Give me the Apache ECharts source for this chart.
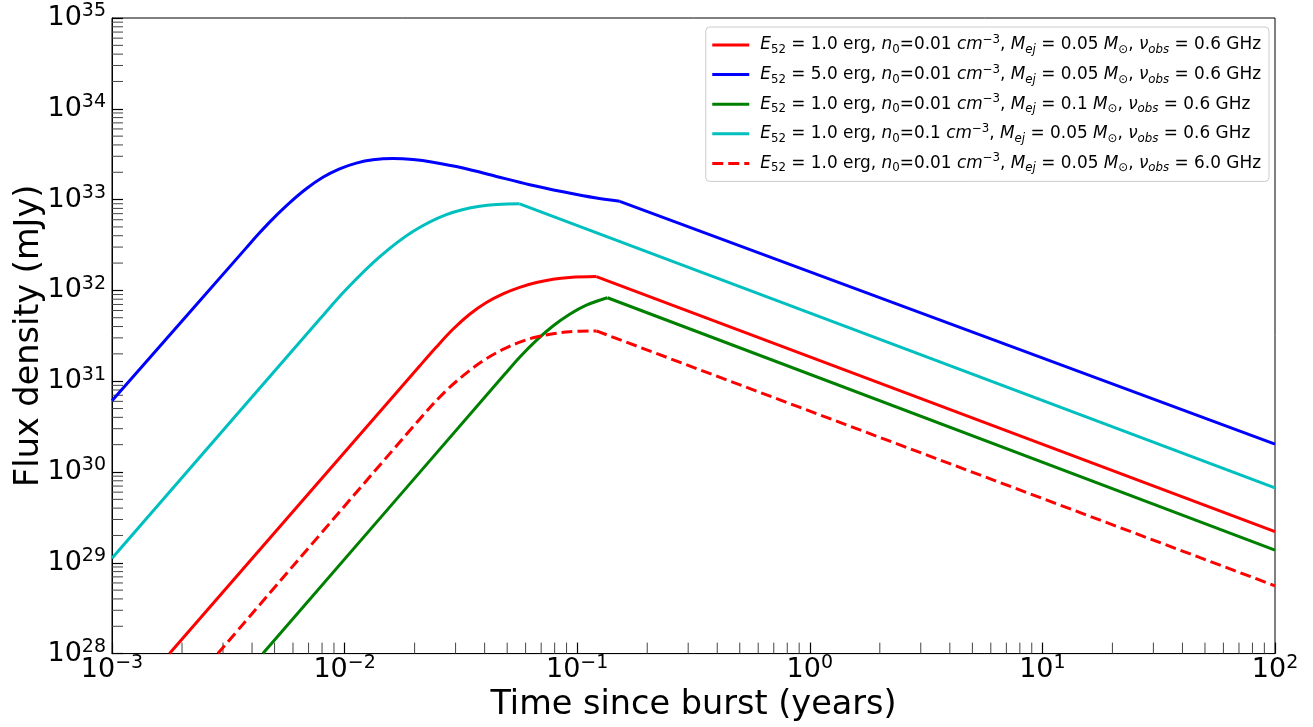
<!DOCTYPE html>
<html>
<head>
<meta charset="utf-8">
<script src="https://cdn.jsdelivr.net/npm/echarts@6/dist/echarts.min.js"></script>
<style>
html,body{margin:0;padding:0;background:#fff;}
#chart{width:1313px;height:727px;}
</style>
</head>
<body>
<div id="chart"></div>
<script>
// ---- data (time in years, flux density in mJy) ----
const seriesNames = [
  'E52 = 1.0 erg, n0=0.01 cm-3, Mej = 0.05 Msun, nu_obs = 0.6 GHz',
  'E52 = 5.0 erg, n0=0.01 cm-3, Mej = 0.05 Msun, nu_obs = 0.6 GHz',
  'E52 = 1.0 erg, n0=0.01 cm-3, Mej = 0.1 Msun, nu_obs = 0.6 GHz',
  'E52 = 1.0 erg, n0=0.1 cm-3, Mej = 0.05 Msun, nu_obs = 0.6 GHz',
  'E52 = 1.0 erg, n0=0.01 cm-3, Mej = 0.05 Msun, nu_obs = 6.0 GHz'
];
const E52 = ['1.0', '5.0', '1.0', '1.0', '1.0'];
const n0 = ['0.01', '0.01', '0.01', '0.1', '0.01'];
const Mej = ['0.05', '0.05', '0.1', '0.05', '0.05'];
const nuObs = ['0.6', '0.6', '0.6', '0.6', '6.0'];

// curved part up to the break (last entry = break), then straight power-law tail to t = 100 yr
const tRed = [0.001767, 0.02102, 0.02480, 0.02922, 0.03448, 0.04070, 0.04797, 0.05657, 0.06675, 0.07867, 0.09284, 0.1209];
const fRed = [1e28, 1.47e31, 2.38e31, 3.73e31, 5.46e31, 7.35e31, 9.16e31, 1.08e32, 1.22e32, 1.33e32, 1.39e32, 1.42e32];
const tailRed = [[0.1209, 100], [1.42e32, 2.21e29]];

const tBlue = [0.001, 0.003777, 0.004310, 0.004915, 0.005799, 0.006843, 0.008066, 0.009517, 0.01123, 0.01323, 0.01613, 0.01967, 0.02398, 0.03227, 0.04493, 0.06247, 0.08687, 0.1209, 0.1524];
const fBlue = [6.08e30, 2.94e32, 4.31e32, 6.14e32, 9.20e32, 1.315e33, 1.76e33, 2.18e33, 2.52e33, 2.74e33, 2.83e33, 2.76e33, 2.58e33, 2.23e33, 1.80e33, 1.46e33, 1.22e33, 1.04e33, 9.58e32];
const tailBlue = [[0.1524, 100], [9.58e32, 2.03e30]];

const tGreen = [0.004452, 0.04876, 0.05657, 0.06675, 0.07867, 0.09284, 0.1095, 0.1349];
const fGreen = [1e28, 1.19e31, 1.84e31, 2.82e31, 4.06e31, 5.46e31, 6.89e31, 8.30e31];
const tailGreen = [[0.1349, 100], [8.30e31, 1.38e29]];

const tCyan = [0.001, 0.00781, 0.01017, 0.01414, 0.01966, 0.02738, 0.03807, 0.05657];
const fCyan = [1.12e29, 4.80e31, 1.03e32, 2.34e32, 4.45e32, 6.84e32, 8.47e32, 8.99e32];
const tailCyan = [[0.05657, 100], [8.99e32, 6.67e29]];

const tDash = [0.002851, 0.02102, 0.02738, 0.03448, 0.04070, 0.04797, 0.05657, 0.06675, 0.07867, 0.09284, 0.1209];
const fDash = [1e28, 3.82e30, 7.91e30, 1.31e31, 1.77e31, 2.24e31, 2.69e31, 3.07e31, 3.33e31, 3.51e31, 3.58e31];
const tailDash = [[0.1209, 100], [3.58e31, 5.58e28]];

const xDecades = [-3, -2, -1, 0, 1];
const yDecades = [28, 29, 30, 31, 32, 33, 34];
const minorMultipliers = [2, 3, 4, 5, 6, 7, 8, 9];

// ---- helpers ----
function zip(t, f) { return t.map((v, i) => [v, f[i]]); }
const xMinor = [];
xDecades.forEach(d => minorMultipliers.forEach(k => xMinor.push([k * Math.pow(10, d), 1e28])));
const yMinor = [];
yDecades.forEach(d => minorMultipliers.forEach(k => yMinor.push([0.001, k * Math.pow(10, d)])));

const FONT = 'DejaVu Sans';
function powLabel(v) {
  const e = Math.round(Math.log10(v));
  const s = e < 0 ? '\u2212' + (-e) : String(e);
  return '{b|10}{s|' + s + '}';
}
function legendRich(i) {
  return '{gap|}{i|E}{sb|52}{n| = ' + E52[i] + ' erg, }{i|n}{sb|0}{n|=' + n0[i] + ' }{i|cm}{sp|\u22123}{n|, }' +
    '{i|M}{sbi|ej}{n| = ' + Mej[i] + ' }{i|M}{sb|\u2299}{n|, }{i|\u03bd}{sbi|obs}{n| = ' + nuObs[i] + ' GHz}';
}
const legendMap = {};
seriesNames.forEach((n, i) => legendMap[n] = legendRich(i));

const tickLabelRich = {
  b: { fontFamily: FONT, fontSize: 27, lineHeight: 32, color: '#000' },
  s: { fontFamily: FONT, fontSize: 19, lineHeight: 19, verticalAlign: 'top', color: '#000' }
};
const LFS = 16.9, LSS = 11.8;
const legendRichStyles = {
  gap: { width: 6 },
  n: { fontFamily: FONT, fontSize: LFS, lineHeight: 22, color: '#000' },
  i: { fontFamily: FONT, fontSize: LFS, fontStyle: 'italic', lineHeight: 22, color: '#000' },
  sb: { fontFamily: FONT, fontSize: LSS, lineHeight: 11, verticalAlign: 'bottom', color: '#000' },
  sbi: { fontFamily: FONT, fontSize: LSS, fontStyle: 'italic', lineHeight: 11, verticalAlign: 'bottom', color: '#000' },
  sp: { fontFamily: FONT, fontSize: LSS, lineHeight: 12, verticalAlign: 'top', color: '#000' }
};

const colors = ['#ff0000', '#0000ff', '#008000', '#00bfbf', '#ff0000'];
const heads = [zip(tRed, fRed), zip(tBlue, fBlue), zip(tGreen, fGreen), zip(tCyan, fCyan), zip(tDash, fDash)];
const tails = [tailRed, tailBlue, tailGreen, tailCyan, tailDash].map(tl => zip(tl[0], tl[1]));

function lineStyleFor(i) {
  return { color: colors[i], width: 3, type: i === 4 ? [11, 5] : 'solid', cap: 'butt', join: 'round' };
}
const lineSeries = [];
heads.forEach((d, i) => {
  lineSeries.push({
    name: seriesNames[i], type: 'line', data: d,
    symbol: 'none', showSymbol: false, smooth: 0.35, clip: true, z: 3 + i,
    lineStyle: lineStyleFor(i), itemStyle: { color: colors[i] }
  });
  lineSeries.push({
    name: seriesNames[i], type: 'line', data: tails[i],
    symbol: 'none', showSymbol: false, smooth: false, clip: true, z: 3 + i,
    lineStyle: lineStyleFor(i), itemStyle: { color: colors[i] }
  });
});

const TICK = 11;
const minorX = {
  type: 'custom', silent: true, z: 2, data: xMinor, encode: { x: 0, y: 1 },
  renderItem: function (params, api) {
    const p = api.coord([api.value(0), api.value(1)]);
    return { type: 'line', shape: { x1: p[0], y1: p[1], x2: p[0], y2: p[1] - TICK }, style: { stroke: '#444', lineWidth: 1 } };
  }
};
const minorY = {
  type: 'custom', silent: true, z: 2, data: yMinor, encode: { x: 0, y: 1 },
  renderItem: function (params, api) {
    const p = api.coord([api.value(0), api.value(1)]);
    return { type: 'line', shape: { x1: p[0], y1: p[1], x2: p[0] + TICK, y2: p[1] }, style: { stroke: '#444', lineWidth: 1 } };
  }
};

const chart = echarts.init(document.getElementById('chart'), null, { renderer: 'canvas' });
chart.setOption({
  animation: false,
  backgroundColor: '#fff',
  grid: { left: 112, right: 38, top: 18, bottom: 72, show: true, borderColor: '#000', borderWidth: 1, backgroundColor: 'transparent' },
  legend: {
    orient: 'vertical', right: 44, top: 27,
    itemWidth: 37, itemHeight: 14, itemGap: 7.6,
    padding: [7, 8, 7, 5],
    backgroundColor: '#fff', borderColor: '#cccccc', borderWidth: 1, borderRadius: 4,
    data: seriesNames,
    itemStyle: { opacity: 0 },
    lineStyle: { width: 3 },
    formatter: n => legendMap[n],
    textStyle: { fontFamily: FONT, fontSize: LFS, rich: legendRichStyles }
  },
  xAxis: {
    type: 'log', logBase: 10, min: 1e-3, max: 1e2,
    name: 'Time since burst (years)', nameLocation: 'middle', nameGap: 34,
    nameTextStyle: { fontFamily: FONT, fontSize: 33.5, color: '#000' },
    axisLine: { show: true, lineStyle: { color: '#000', width: 1 } },
    axisTick: { show: true, inside: true, length: TICK, lineStyle: { color: '#000', width: 1.2 } },
    axisLabel: { margin: 0, formatter: powLabel, rich: tickLabelRich, showMinLabel: true, showMaxLabel: true },
    splitLine: { show: false }
  },
  yAxis: {
    type: 'log', logBase: 10, min: 1e28, max: 1e35,
    name: 'Flux density (mJy)', nameLocation: 'middle', nameGap: 66, nameMoveOverlap: false,
    nameTextStyle: { fontFamily: FONT, fontSize: 33.5, color: '#000' },
    axisLine: { show: true, lineStyle: { color: '#000', width: 1 } },
    axisTick: { show: true, inside: true, length: TICK, lineStyle: { color: '#000', width: 1.2 } },
    axisLabel: { margin: 6, formatter: powLabel, rich: tickLabelRich, showMinLabel: true, showMaxLabel: true },
    splitLine: { show: false }
  },
  series: lineSeries.concat([minorX, minorY])
});
</script>
</body>
</html>
